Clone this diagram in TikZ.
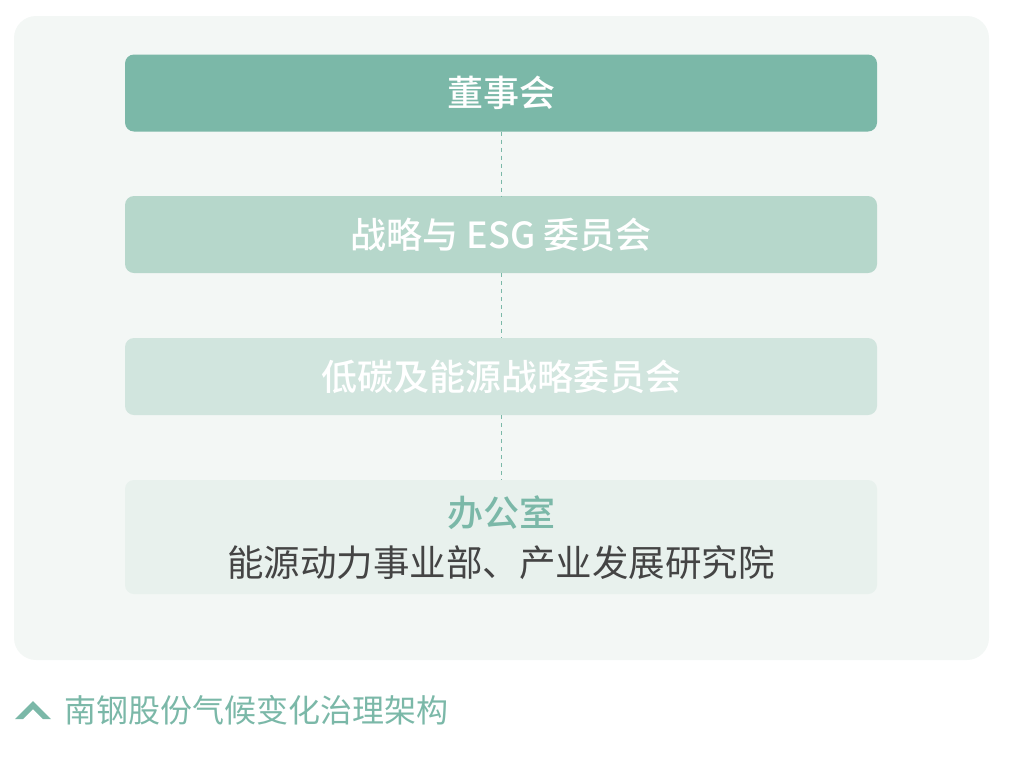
\documentclass[tikz,border=0pt]{standalone}
\usepackage{fontspec}
\newfontfamily\cjk[BoldFont={Noto Sans CJK SC Medium}]{Noto Sans CJK SC}
\definecolor{boardgreen}{RGB}{123,184,168}
\definecolor{esggreen}{RGB}{182,215,203}
\definecolor{lowgreen}{RGB}{209,229,222}
\definecolor{officegreen}{RGB}{232,241,237}
\definecolor{panelgray}{RGB}{243,247,245}
\definecolor{textgray}{RGB}{68,68,68}
\tikzset{
  tierbox/.style={rounded corners=9pt, minimum width=752pt, minimum height=77pt,
    inner sep=0pt, text=white, font=\cjk\bfseries\fontsize{36}{42}\selectfont},
  linkline/.style={boardgreen, line width=1pt, dash pattern=on 4pt off 4pt}
}
\begin{document}
\begin{tikzpicture}[x=1pt,y=-1pt]
    \useasboundingbox (0,0) rectangle (1012,769);
    \fill[panelgray, rounded corners=22pt] (14,16) rectangle (989,660);

    \node[tierbox, fill=boardgreen] (board) at (501,93) {董事会};
    \node[tierbox, fill=esggreen] (esg) at (501,234.5) {战略与 ESG 委员会};
    \node[tierbox, fill=lowgreen] (lowcarbon) at (501,376.5) {低碳及能源战略委员会};
    \node[tierbox, fill=officegreen, minimum height=114pt] (office) at (501,537) {};
    \node[text=boardgreen, font=\cjk\bfseries\fontsize{36}{42}\selectfont] (officetitle) at (501,513) {办公室};
    \node[text=textgray, font=\cjk\fontsize{36.5}{42}\selectfont] (officedepts) at (501,563) {能源动力事业部、产业发展研究院};

    \draw[linkline] (board) -- (esg);
    \draw[linkline] (esg) -- (lowcarbon);
    \draw[linkline] (lowcarbon) -- (office);

    % caption
    \fill[boardgreen] (15,719) -- (33,701) -- (51,719) -- (43,719) -- (33,709) -- (23,719) -- cycle;
    \node[anchor=west, inner sep=0pt, text=boardgreen, font=\cjk\fontsize{32}{38}\selectfont] (caption) at (64,710) {南钢股份气候变化治理架构};
  \end{tikzpicture}
\end{document}
